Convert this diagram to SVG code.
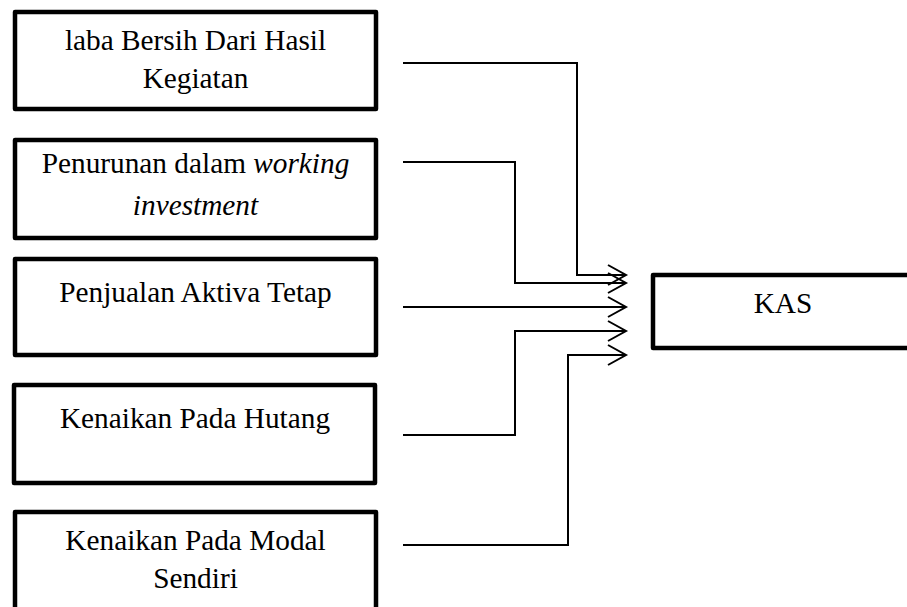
<svg xmlns="http://www.w3.org/2000/svg" width="907" height="607" viewBox="0 0 907 607">
  <style>
    .box { fill: #ffffff; stroke: #000000; stroke-width: 4.5; stroke-linejoin: round; }
    .lbl { font-family: "Liberation Serif", "Times New Roman", "DejaVu Serif", serif; font-size: 29.3px; fill: #000000; text-anchor: middle; }
    .it { font-style: italic; }
    .wire { fill: none; stroke: #000000; stroke-width: 2; }
  </style>
  <defs>
    <marker id="chev" markerUnits="userSpaceOnUse" markerWidth="24" markerHeight="26" refX="20" refY="12" orient="auto">
      <path d="M2,2 L20,12 L2,22" fill="none" stroke="#000000" stroke-width="2"/>
    </marker>
  </defs>

  <g id="node-laba">
    <rect class="box" x="15" y="12" width="361" height="97"/>
    <text class="lbl" x="195.5" y="50">laba Bersih Dari Hasil</text>
    <text class="lbl" x="195.5" y="88">Kegiatan</text>
  </g>

  <g id="node-penurunan">
    <rect class="box" x="15" y="140" width="361" height="98"/>
    <text class="lbl" x="195.5" y="173">Penurunan dalam <tspan class="it">working</tspan></text>
    <text class="lbl it" x="195.5" y="215">investment</text>
  </g>

  <g id="node-penjualan">
    <rect class="box" x="15" y="259" width="361" height="96"/>
    <text class="lbl" x="195.5" y="302">Penjualan Aktiva Tetap</text>
  </g>

  <g id="node-hutang">
    <rect class="box" x="14" y="385" width="361" height="98"/>
    <text class="lbl" x="195" y="428">Kenaikan Pada Hutang</text>
  </g>

  <g id="node-modal">
    <rect class="box" x="15" y="512" width="361" height="110"/>
    <text class="lbl" x="195.5" y="550">Kenaikan Pada Modal</text>
    <text class="lbl" x="195.5" y="588">Sendiri</text>
  </g>

  <g id="node-kas">
    <rect class="box" x="653" y="275" width="280" height="73"/>
    <text class="lbl" x="783" y="313">KAS</text>
  </g>

  <g id="connectors">
    <polyline class="wire" points="403,63 577,63 577,275 626,275" marker-end="url(#chev)"/>
    <polyline class="wire" points="403,162 515,162 515,283 626,283" marker-end="url(#chev)"/>
    <polyline class="wire" points="403,307 626,307" marker-end="url(#chev)"/>
    <polyline class="wire" points="403,435 515,435 515,331 626,331" marker-end="url(#chev)"/>
    <polyline class="wire" points="403,545 568,545 568,355 626,355" marker-end="url(#chev)"/>
  </g>
</svg>
